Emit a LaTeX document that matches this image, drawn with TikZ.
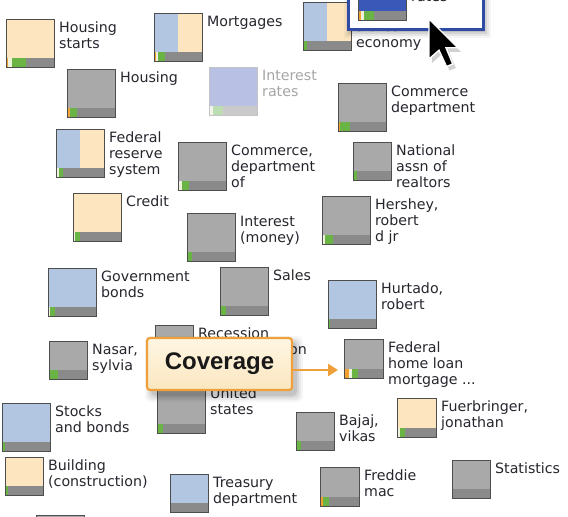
\documentclass[tikz,border=0pt]{standalone}
\usepackage{fontspec}
\setmainfont{DejaVu Sans}
\newfontfamily\calloutfont{Liberation Sans}
\usetikzlibrary{calc,arrows.meta}
\definecolor{tgray}{HTML}{A9A9A9}
\definecolor{tbar}{HTML}{8A8A8A}
\definecolor{tbeige}{HTML}{FDE5C0}
\definecolor{tblue}{HTML}{B2C5E1}
\definecolor{tborder}{HTML}{4E4E4E}
\definecolor{sgreen}{HTML}{6AB446}
\definecolor{sorange}{HTML}{F2A02E}
\definecolor{slight}{HTML}{EEF2DC}
\definecolor{lbltext}{HTML}{26262E}
\definecolor{cotop}{HTML}{FEF6E4}
\definecolor{cobot}{HTML}{FBE7C0}
\definecolor{coborder}{HTML}{EFA03A}
\definecolor{popblue}{HTML}{2E4CA6}
\definecolor{tdblue}{HTML}{3A58B8}
\definecolor{tlav}{HTML}{B8C0E4}
\definecolor{fbar}{HTML}{CACACA}
\definecolor{flight}{HTML}{F2F4EA}
\definecolor{fgreen}{HTML}{BCDDB2}
\definecolor{fborder}{HTML}{C4C4C4}
\definecolor{ftext}{HTML}{A6A6A6}
\newcommand\mytile[9]{%
  \node[tilebox, minimum size=#4pt, #5] (#1) at (#2,#3) {};
  \path[barS] (#1.south west) rectangle ([yshift=9pt]#1.south east);
  \path[orS] (#1.south west) rectangle ++(#6,-9);
  \path[liS] ([xshift=#6pt]#1.south west) rectangle ++(#7,-9);
  \path[grS] ([xshift=#6pt+#7pt]#1.south west) rectangle ++(#8,-9);
  \path[bordS] (#1.south west) rectangle (#1.north east);
  \node[lbl] (#1l) at ([xshift=5pt]#1.north east) {\rule{0pt}{13.5pt}#9};
}
\begin{document}
\begin{tikzpicture}[x=1pt,y=-1pt,
  tilebox/.style={rectangle, anchor=north west, inner sep=0pt, outer sep=0pt},
  barS/.style={fill=tbar}, orS/.style={fill=sorange}, liS/.style={fill=slight}, grS/.style={fill=sgreen},
  bordS/.style={draw=tborder, line width=0.9pt},
  lbl/.style={anchor=north west, inner sep=0pt, align=left, font=\fontsize{14.2}{15.7}\selectfont, text=lbltext},
  gfill/.style={fill=tgray}, bfill/.style={fill=tblue}, yfill/.style={fill=tbeige},
  dfill/.style={fill=tdblue}, lfill/.style={fill=tlav},
  sfill/.style={fill=tbeige, path picture={\fill[tblue] (path picture bounding box.south west) rectangle (path picture bounding box.north);}},
]
\useasboundingbox[fill=white] (0,0) rectangle (568,517);

\mytile{hs}{6}{19}{48}{yfill}{1.7}{4.3}{14}{Housing\\starts}
\mytile{mort}{154}{13}{48}{sfill}{2.3}{2}{6.3}{Mortgages}
\mytile{hous}{67}{69}{48}{gfill}{2.7}{0}{7.3}{Housing}
\begin{scope}[barS/.style={fill=fbar}, orS/.style={fill=none}, liS/.style={fill=flight},
  grS/.style={fill=fgreen}, bordS/.style={draw=fborder, line width=0.9pt}, lbl/.append style={text=ftext}]
\mytile{ir}{209}{67}{48}{lfill}{0}{4}{10}{Interest\\rates}
\end{scope}
\mytile{use}{303}{2}{48}{sfill}{0}{0}{4}{United\\states\\economy}
\mytile{cd}{338}{83}{48}{gfill}{2.3}{0}{10}{Commerce\\department}
\mytile{frs}{56}{129}{48}{sfill}{0}{2.7}{4}{Federal\\reserve\\system}
\mytile{cdo}{178}{142}{48}{gfill}{0}{4}{7.3}{Commerce,\\department\\of}
\mytile{cr}{73}{193}{48}{yfill}{0}{1.7}{5}{Credit}
\mytile{im}{187}{213}{48}{gfill}{0}{0}{5}{Interest\\(money)}
\mytile{gb}{48}{268}{48}{bfill}{0}{1.7}{5}{Government\\bonds}
\mytile{sa}{220}{267}{48}{gfill}{0}{0}{5.7}{Sales}
\mytile{nar}{353}{142}{38}{gfill}{0}{0}{4}{National\\assn of\\realtors}
\mytile{her}{322}{196}{48}{gfill}{0}{3.3}{8}{Hershey,\\robert\\d jr}
\mytile{hur}{328}{280}{48}{bfill}{0}{0}{2}{Hurtado,\\robert}
\mytile{rec}{155}{325}{38}{gfill}{0}{0}{4}{Recession\\and depression}
\mytile{nas}{49}{341}{38}{gfill}{0}{0}{9}{Nasar,\\sylvia}
\mytile{ust}{157}{385}{48}{gfill}{0}{0}{5.7}{United\\states}
\mytile{fhl}{344}{339}{39}{gfill}{5.3}{2.3}{6.7}{Federal\\home loan\\mortgage ...}
\mytile{sb}{2}{403}{48}{bfill}{0}{0}{3.3}{Stocks\\and bonds}
\mytile{bc}{5}{457}{38}{yfill}{0}{0}{3.3}{Building\\(construction)}
\mytile{fj}{397}{398}{39}{yfill}{0}{3.3}{5}{Fuerbringer,\\jonathan}
\mytile{bv}{296}{412}{38}{gfill}{0}{0}{5}{Bajaj,\\vikas}
\mytile{tr}{170}{474}{38}{bfill}{0}{0}{0}{Treasury\\department}
\mytile{fm}{320}{467}{39}{gfill}{3.3}{0}{5.3}{Freddie\\mac}
\mytile{st}{452}{460}{38}{gfill}{0}{0}{0}{Statistics}
\mytile{bt}{36}{515}{48}{gfill}{0}{0}{0}{}

% popup window
\foreach \s/\o in {6/0.04,4/0.06,2/0.08,0/0.10}
  \fill[black, opacity=\o] (347-\s+3,-20) rectangle (482+\s+3,28+\s+4);
\node[rectangle, draw=popblue, line width=2.6pt, fill=white, anchor=north west,
      minimum width=135pt, minimum height=50pt, inner sep=0pt] (win) at (347,-22) {};
\mytile{pop}{358}{-28}{48}{dfill}{3}{2.7}{10}{Interest\\rates}

% cursor
\fill[black, opacity=0.18, shift={(432,23)}, x=2.5pt, y=-2.5pt]
  (0,0) -- (0,16) -- (4,12.5) -- (7,19) -- (9.5,18) -- (6.8,11.5) -- (11.5,11.5) -- cycle;
\path[fill=black, draw=white, line width=1.4pt, line join=miter, shift={(429,19)}, x=2.5pt, y=-2.5pt]
  (0,0) -- (0,16) -- (4,12.5) -- (7,19) -- (9.5,18) -- (6.8,11.5) -- (11.5,11.5) -- cycle;

% callout
\foreach \s/\o in {7/0.035,5/0.05,3/0.07,1/0.09}
  \fill[black, opacity=\o, rounded corners=5pt] (148-\s+4,338-\s+5) rectangle (292+\s+4,390+\s+5);
\node[draw=coborder, line width=2.2pt, rounded corners=3pt, top color=cotop, bottom color=cobot,
      minimum width=145pt, minimum height=52pt, inner sep=0pt,
      font=\calloutfont\fontsize{24}{28}\selectfont\bfseries, text=black!90] (cov) at (219.5,364) {Coverage};
\coordinate (covtip) at (338,370);
\draw[coborder, line width=2.8pt, -{Triangle[length=10pt,width=12pt]}] (cov.east |- covtip) -- (covtip);
\end{tikzpicture}
\end{document}
